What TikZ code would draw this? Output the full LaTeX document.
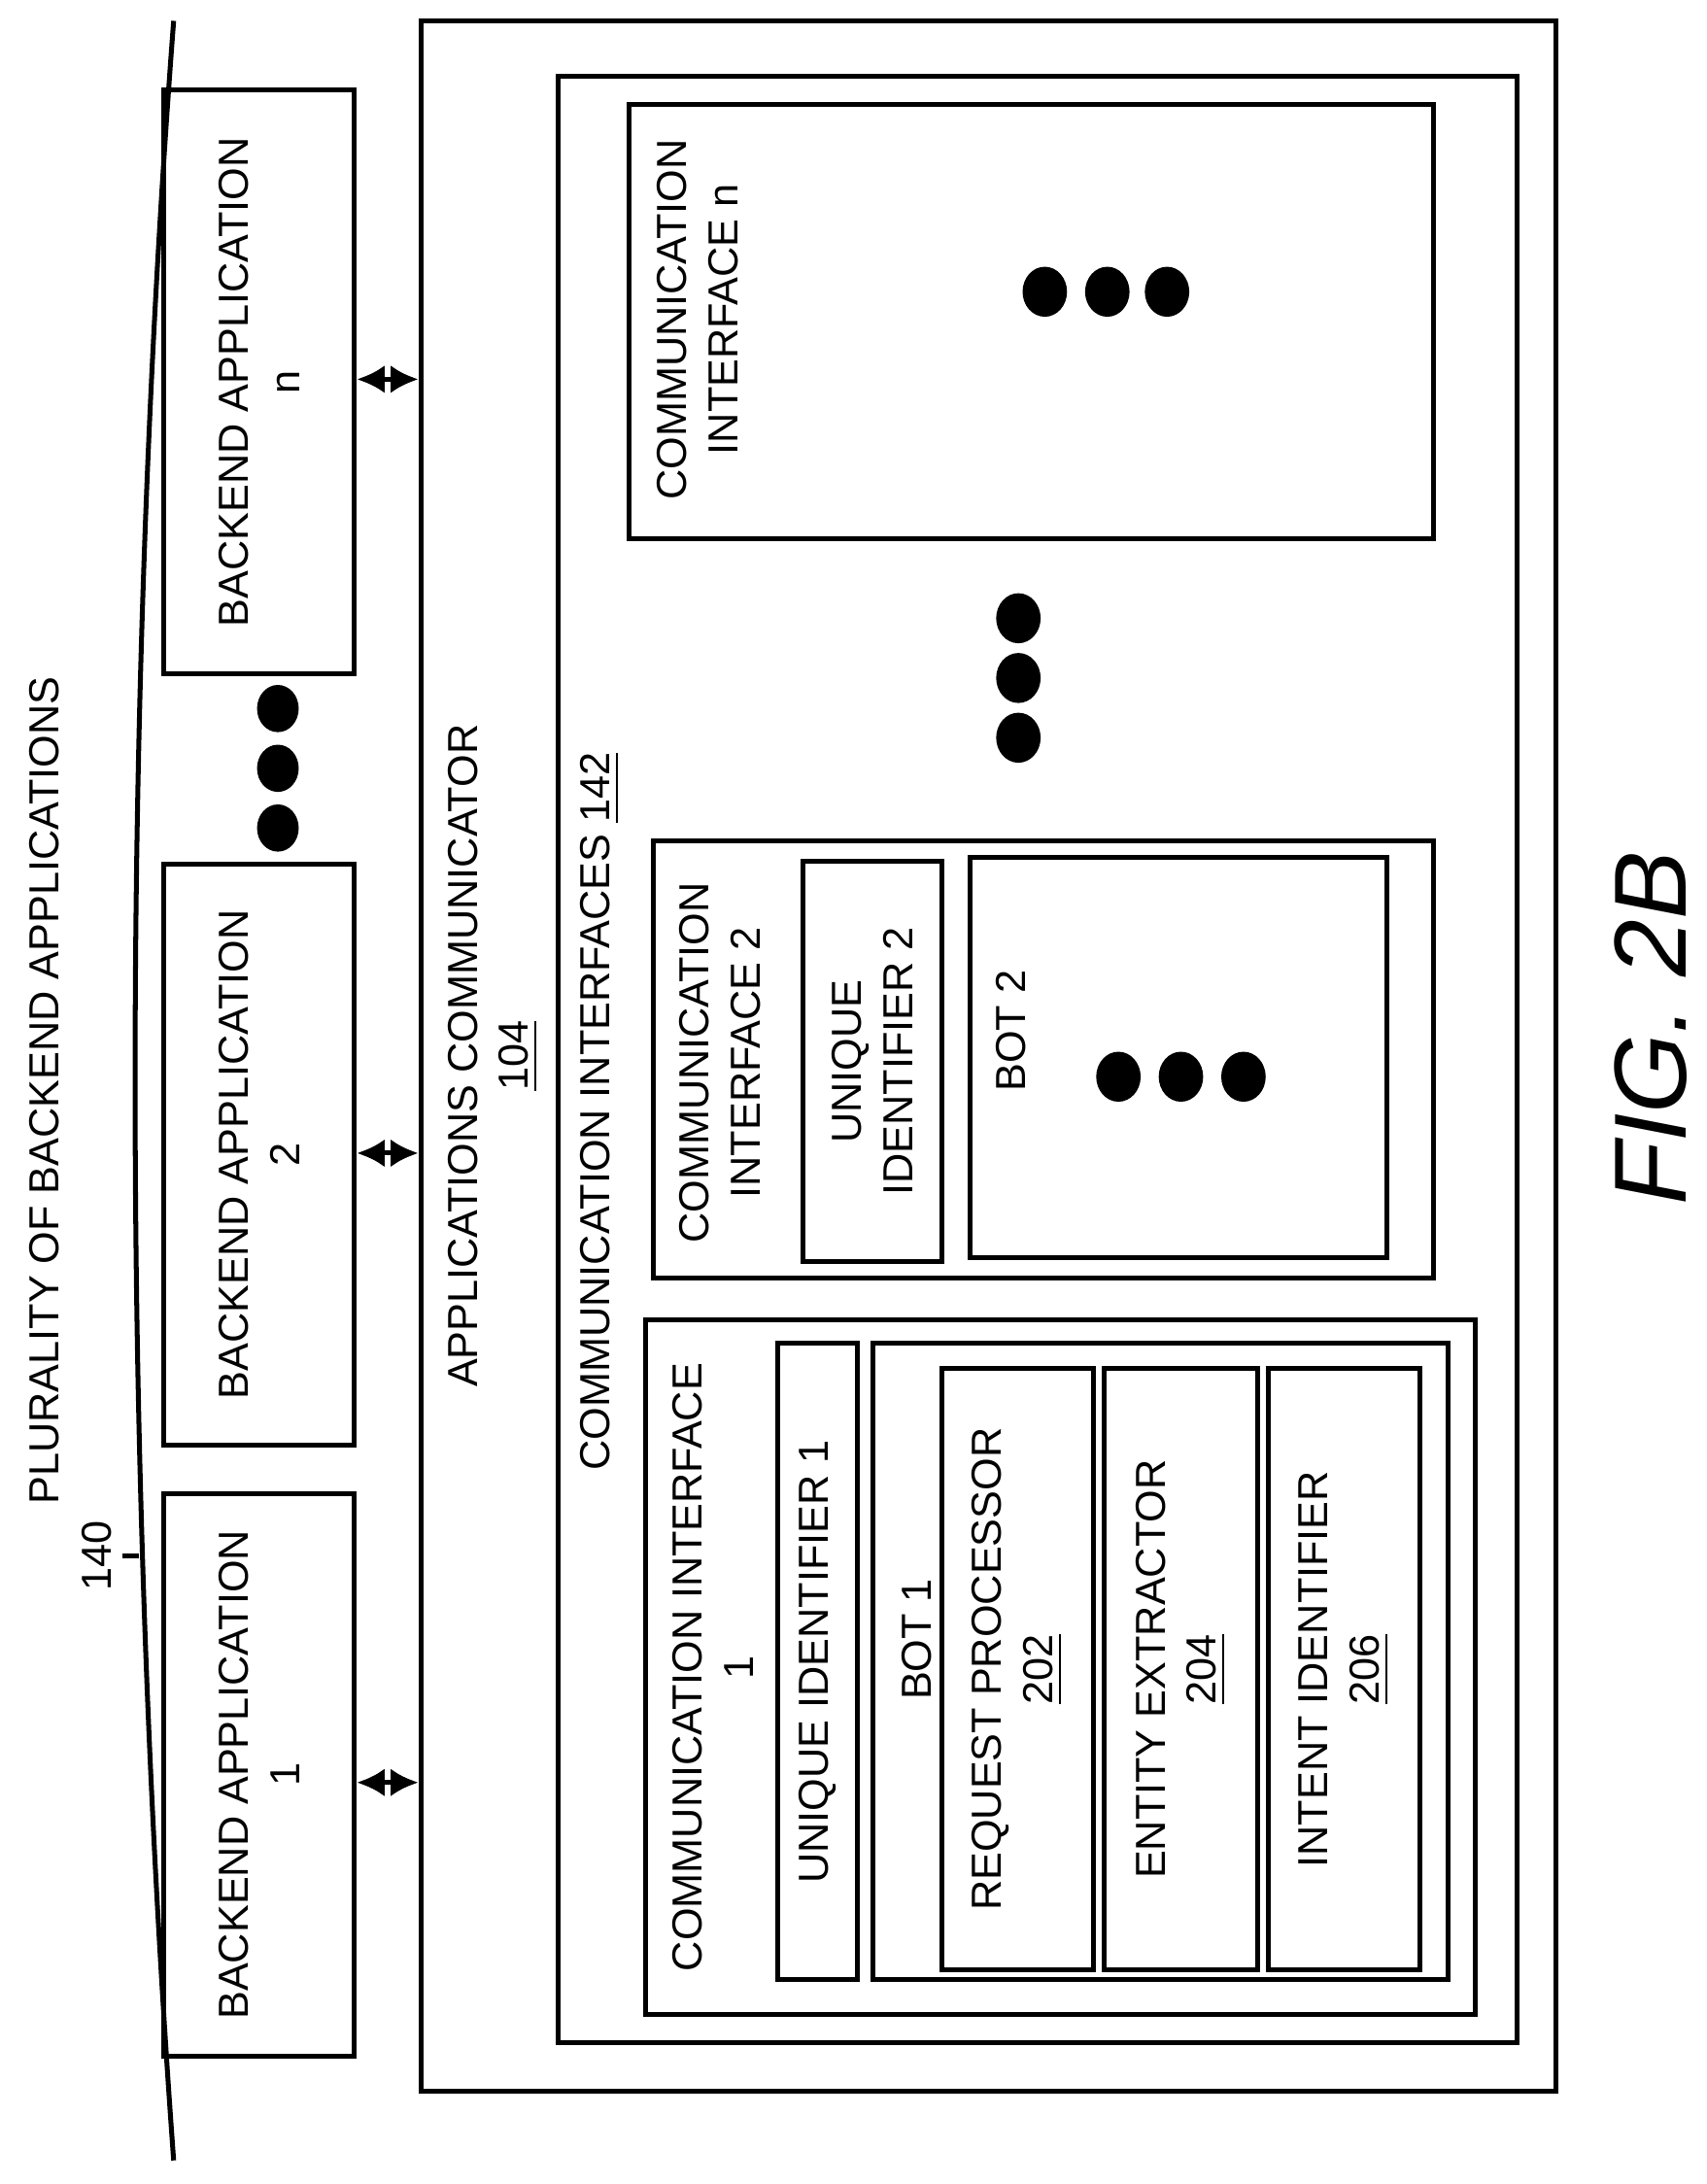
\documentclass[tikz,border=0pt]{standalone}
\usepackage{fontspec}
\setmainfont{Liberation Sans}
\usetikzlibrary{fit,arrows.meta}
\tikzset{box/.style={draw,line width=1pt,inner sep=0pt,fit={#1}},
 lbl/.style={rotate=90,align=center,font=\fontsize{8.6}{10.5}\selectfont,inner sep=0pt},
 biarrow/.style={{Latex[length=2mm,width=2mm]}-{Latex[length=2mm,width=2mm]},line width=1pt}}
\begin{document}
\begin{tikzpicture}[x=0.1mm,y=-0.1mm]
\useasboundingbox (0,0) rectangle (1228,1572);
% bracket
\draw[line width=1pt] (125,15) .. controls (88,500) and (88,1050) .. (125,1555);
\coordinate (tk) at (100,1120);
\draw[line width=1pt] (tk) -- (88,1120);
\node[lbl] (plt) at (32,785) {PLURALITY OF BACKEND APPLICATIONS};
\node[lbl] (n140) at (70,1120) {140};
% backend apps
\node[box={(118,1075)(255,1480)}] (b1) {};
\node[lbl] at (b1) {BACKEND APPLICATION\\1};
\node[box={(118,622)(255,1040)}] (b2) {};
\node[lbl] at (b2) {BACKEND APPLICATION\\2};
\node[box={(118,65)(255,485)}] (bn) {};
\node[lbl] at (bn) {BACKEND APPLICATION\\n};
\foreach \y in {510,553,596} \fill (200,\y) ellipse (15 and 17);
% communicator
\node[box={(303,15)(1120,1505)}] (ac) {};
\node[lbl] at (355,760) {APPLICATIONS COMMUNICATOR\\\underline{104}};
\draw[biarrow] (b1.east |- 0,1283) -- (ac.west |- 0,1283);
\draw[biarrow] (b2.east |- 0,830) -- (ac.west |- 0,830);
\draw[biarrow] (bn.east |- 0,273) -- (ac.west |- 0,273);
\node[box={(402,55)(1092,1470)}] (cis) {};
\node[lbl] at (432,800) {COMMUNICATION INTERFACES \underline{142}};
% CI 1
\node[box={(465,950)(1062,1450)}] (ci1) {};
\node[lbl] at (513,1200) {COMMUNICATION INTERFACE\\1};
\node[box={(560,967)(617,1425)}] (u1) {};
\node[lbl] at (u1) {UNIQUE IDENTIFIER 1};
\node[box={(628,967)(1042,1425)}] (bot1) {};
\node[lbl] at (660,1180) {BOT 1};
\node[box={(678,985)(787,1418)}] (rp) {};
\node[lbl] at (rp) {REQUEST PROCESSOR\\\underline{202}};
\node[box={(795,985)(905,1418)}] (ee) {};
\node[lbl] at (ee) {ENTITY EXTRACTOR\\\underline{204}};
\node[box={(913,985)(1022,1418)}] (ii) {};
\node[lbl] at (ii) {INTENT IDENTIFIER\\\underline{206}};
% CI 2
\node[box={(470,605)(1032,920)}] (ci2) {};
\node[lbl] at (518,765) {COMMUNICATION\\INTERFACE 2};
\node[box={(578,620)(678,908)}] (u2) {};
\node[lbl] at (u2) {UNIQUE\\IDENTIFIER 2};
\node[box={(698,617)(998,905)}] (bot2) {};
\node[lbl] at (728,742) {BOT 2};
\foreach \x in {805,850,895} \fill (\x,775) ellipse (16 and 18);
\foreach \y in {445,488,531} \fill (733,\y) ellipse (16 and 18);
% CI n
\node[box={(453,75)(1032,388)}] (cin) {};
\node[lbl] at (502,230) {COMMUNICATION\\INTERFACE n};
\foreach \x in {752,797,840} \fill (\x,210) ellipse (16 and 18);
\node[rotate=90,font=\fontsize{21}{25}\selectfont\itshape] (fig) at (1188,740) {FIG. 2B};
\end{tikzpicture}
\end{document}
